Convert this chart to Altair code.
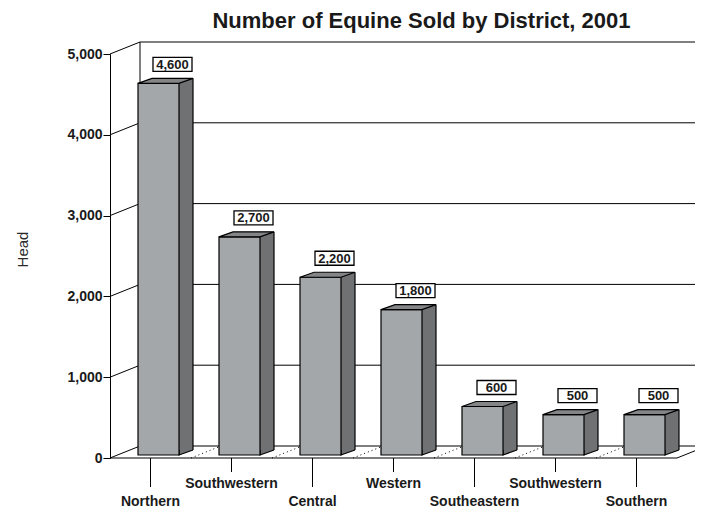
import altair as alt
import pandas as pd

# ---- data ----
districts = ["Northern", "Southwestern", "Central", "Western",
             "Southeastern", "Southwestern", "Southern"]
head_sold = [4600, 2700, 2200, 1800, 600, 500, 500]
y_ticks = [0, 1000, 2000, 3000, 4000, 5000]
chart_title = "Number of Equine Sold by District, 2001"
y_title = "Head"

n = len(districts)
df = pd.DataFrame({"idx": list(range(n)), "district": districts, "head": head_sold})
ticks_df = pd.DataFrame({"v": y_ticks})
bounds_df = pd.DataFrame({"b": [i + 0.5 for i in range(n - 1)]})
one_df = pd.DataFrame({"k": [0]})
title_df = pd.DataFrame({"t": [chart_title]})

# ---- geometry / style ----
W, H = 567, 404
DX, DY = 30, 12          # depth of the frame (walls/floor)
BW = 41                  # bar front width
BX, BY = 8, 3            # bar plane shift
dxb, dyb = 14, 5         # bar depth
x1 = BX + BW / 2         # right edge of front face (rel. to tick centre)
x0 = BX - BW / 2

FRONT = "#a4a7a9"
SIDE = "#6f7173"
TOP = "#838587"
INK = "#1a1a1a"
FONT = "Liberation Sans"

xs = alt.Scale(domain=[-0.5, n - 0.5], nice=False, zero=False, padding=0)
ys = alt.Scale(domain=[min(y_ticks), max(y_ticks)], nice=False, zero=False, padding=0)

y_axis = alt.Axis(values=y_ticks, labelExpr="format(datum.value, ',')", labelFont=FONT,
                  labelFontSize=14, labelFontWeight="bold", labelColor=INK, labelPadding=1,
                  tickSize=7, tickColor="black", tickWidth=1,
                  domainColor="black", domainWidth=1, grid=False,
                  title=y_title, titleFont=FONT, titleFontWeight="normal",
                  titleFontSize=15, titleColor="#2a2a2a", titleAngle=270,
                  titleX=-88, titleY=195, titleAlign="center", titleBaseline="middle")


def xq(f):
    return alt.X(f, type="quantitative", scale=xs, axis=None)


def xd(v):
    return alt.XDatum(v, type="quantitative", scale=xs, axis=None)


def yq(f):
    return alt.Y(f, type="quantitative", scale=ys, axis=y_axis)


def yd(v):
    return alt.YDatum(v, type="quantitative", scale=ys, axis=y_axis)


lo, hi = -0.5, n - 0.5
ymin, ymax = min(y_ticks), max(y_ticks)

# ---- frame ----
back_h = alt.Chart(ticks_df).mark_rule(color="black", strokeWidth=1, xOffset=DX, x2Offset=DX,
                                        yOffset=-DY).encode(x=xd(lo), x2=alt.X2Datum(hi), y=yq("v"))
left_d = alt.Chart(ticks_df).mark_rule(color="black", strokeWidth=1, x2Offset=DX,
                                        y2Offset=-DY).encode(x=xd(lo), x2=alt.X2Datum(lo),
                                                             y=yq("v"), y2=alt.Y2("v"))
back_v = alt.Chart(one_df).mark_rule(color="black", strokeWidth=1, xOffset=DX, yOffset=-DY,
                                      y2Offset=-DY).encode(x=xd(lo), y=yd(ymin), y2=alt.Y2Datum(ymax))
floor_front = alt.Chart(one_df).mark_rule(color="black", strokeWidth=1.2).encode(
    x=xd(lo), x2=alt.X2Datum(hi), y=yd(0))
floor_right = alt.Chart(one_df).mark_rule(color="black", strokeWidth=1, x2Offset=DX,
                                           y2Offset=-DY).encode(x=xd(hi), x2=alt.X2Datum(hi),
                                                                y=yd(0), y2=alt.Y2Datum(0))
floor_dots = alt.Chart(bounds_df).mark_rule(color="black", strokeWidth=1, strokeDash=[1, 3],
                                             x2Offset=DX, y2Offset=-DY).encode(
    x=xq("b"), x2=alt.X2("b"), y=yd(0), y2=alt.Y2Datum(0))

# ---- bars ----
base = alt.Chart(df)
side_fill = base.mark_bar(width=dxb, xOffset=x1 + dxb / 2, yOffset=-(BY + dyb),
                          y2Offset=-(BY + dyb), color=SIDE).encode(
    x=xq("idx"), y=yq("head"), y2=alt.Y2Datum(0))
tri_path = f"M{x1 + dxb},{-(BY + dyb)}L{x1},{-BY}L{x1},{-(BY + dyb)}"
side_tri = base.mark_point(shape=tri_path, size=4, filled=True, fill=SIDE, stroke="black",
                           strokeWidth=1.2, opacity=1).encode(x=xq("idx"), y=yd(0))
side_edge = base.mark_rule(color="black", strokeWidth=1.2, xOffset=x1 + dxb,
                           yOffset=-(BY + dyb), y2Offset=-(BY + dyb)).encode(
    x=xq("idx"), y=yq("head"), y2=alt.Y2Datum(0))
front = base.mark_bar(width=BW, xOffset=BX, yOffset=-BY, y2Offset=-BY, fill=FRONT,
                      stroke="black", strokeWidth=1.2).encode(
    x=xq("idx"), y=yq("head"), y2=alt.Y2Datum(0))
top_path = (f"M{x0},{-BY}L{x0 + dxb},{-(BY + dyb)}L{x1 + dxb},{-(BY + dyb)}"
            f"L{x1},{-BY}Z")
top = base.mark_point(shape=top_path, size=4, filled=True, fill=TOP, stroke="black",
                      strokeWidth=1.2, opacity=1).encode(x=xq("idx"), y=yq("head"))

# ---- value boxes ----
LX, LY = 22, -22
box_path = f"M{LX - 19.5},{LY - 7}H{LX + 19.5}V{LY + 7}H{LX - 19.5}Z"
box = base.mark_point(shape=box_path, size=4, filled=True, fill="white", stroke="black",
                      strokeWidth=1.3, opacity=1).encode(x=xq("idx"), y=yq("head"))
vals = base.mark_text(dx=LX, dy=LY + 0.5, align="center", baseline="middle", font=FONT,
                      fontSize=13, fontWeight="bold", color=INK).encode(
    x=xq("idx"), y=yq("head"), text=alt.Text("head:Q", format=","))

# ---- category axis (staggered) ----
even = base.transform_filter("datum.idx % 2 == 0")
odd = base.transform_filter("datum.idx % 2 == 1")
tick_long = even.mark_rule(color="black", strokeWidth=1, y2Offset=29).encode(
    x=xq("idx"), y=yd(0), y2=alt.Y2Datum(0))
tick_short = odd.mark_rule(color="black", strokeWidth=1, y2Offset=14).encode(
    x=xq("idx"), y=yd(0), y2=alt.Y2Datum(0))
lab_long = even.mark_text(dy=48, baseline="alphabetic", align="center", font=FONT,
                          fontSize=14, fontWeight="bold", color=INK).encode(
    x=xq("idx"), y=yd(0), text="district:N")
lab_short = odd.mark_text(dy=30, baseline="alphabetic", align="center", font=FONT,
                          fontSize=14, fontWeight="bold", color=INK).encode(
    x=xq("idx"), y=yd(0), text="district:N")

# ---- title ----
title = alt.Chart(title_df).mark_text(align="center", baseline="alphabetic", font=FONT,
                                      fontSize=22, fontWeight="bold", color=INK).encode(
    x=alt.value(W / 2 + 28), y=alt.value(-26), text="t:N")

chart = alt.layer(
    floor_dots, back_h, left_d, back_v, floor_front, floor_right,
    side_fill, side_tri, side_edge, front, top, box, vals,
    tick_long, tick_short, lab_long, lab_short, title,
).properties(
    width=W, height=H,
    padding={"left": 102, "right": 18, "top": 46, "bottom": 50},
    autosize=alt.AutoSizeParams(type="none"),
).configure(background="white").configure_view(stroke=None)

chart.save("out.html", embed_options={"renderer": "svg", "actions": False})
